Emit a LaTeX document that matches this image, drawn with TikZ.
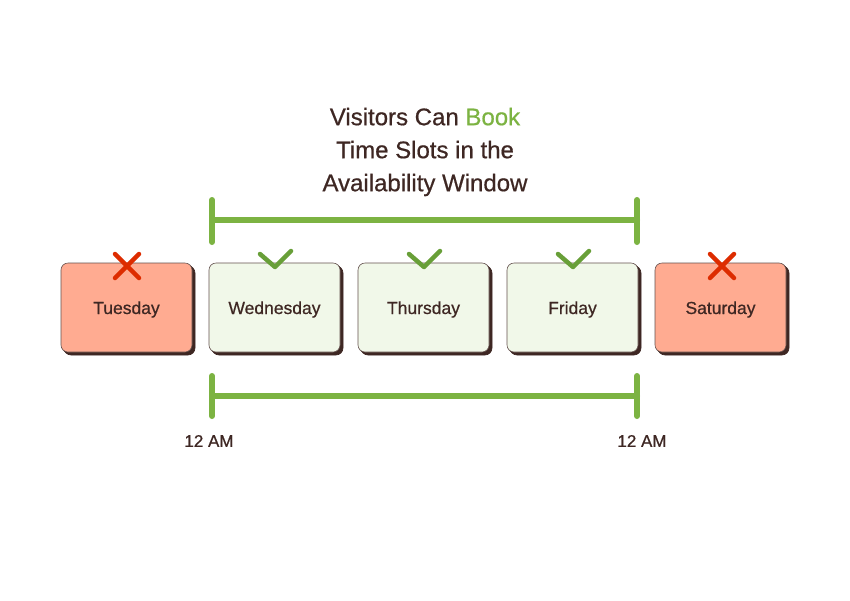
\documentclass[tikz,border=0pt]{standalone}
\usepackage{fontspec}
\setmainfont{Liberation Sans}[UprightFeatures={FakeBold=0.6}]
\definecolor{ink}{HTML}{3E2723}
\definecolor{grn}{HTML}{7CB342}
\definecolor{chk}{HTML}{689F38}
\definecolor{redx}{HTML}{DD2C00}
\definecolor{bad}{HTML}{FFAB91}
\definecolor{good}{HTML}{F1F8E9}
\usetikzlibrary{shadows}
\newcommand{\daytxt}[1]{\raisebox{-6.5pt}[0pt][0pt]{#1}}
\begin{document}
\begin{tikzpicture}[x=1pt,y=-1pt,
  day/.style={draw=ink!80,line width=0.6pt,rounded corners=7pt,minimum width=131pt,minimum height=89pt,
    text=ink,font=\fontsize{17.5}{19}\selectfont,
    double copy shadow={shadow xshift=1.5pt,shadow yshift=-1.5pt,opacity=1,fill=ink,draw=ink}},
  daybad/.style={day,fill=bad},
  daygood/.style={day,fill=good},
  bracket/.style={draw=grn,line width=6pt,line cap=round},
  chkmark/.style={draw=chk,line width=4.5pt,line cap=round,line join=round},
  xmark/.style={draw=redx,line width=4.5pt,line cap=round},
  lbl/.style={text=ink,font=\fontsize{17}{19}\selectfont},
  ttl/.style={text=ink,font=\fontsize{24}{33}\selectfont,align=center}]
\useasboundingbox (0,0) rectangle (850,600);
\fill[white] (0,0) rectangle (850,600);
% title
\node[ttl] (title) at (425,152) {Visitors Can \textcolor{grn}{Book}\\Time Slots in the\\Availability Window};
% top bracket
\coordinate (t1) at (212,220);
\coordinate (t2) at (637,220);
\draw[bracket] (212,200) -- (212,242);
\draw[bracket] (637,200) -- (637,242);
\draw[bracket] (t1) -- (t2);
% boxes
\node[daybad]  (tue) at (126.5,307.5) {\daytxt{Tuesday}};
\node[daygood] (wed) at (274.5,307.5) {\daytxt{Wednesday}};
\node[daygood] (thu) at (423.5,307.5) {\daytxt{Thursday}};
\node[daygood] (fri) at (572.5,307.5) {\daytxt{Friday}};
\node[daybad]  (sat) at (720.5,307.5) {\daytxt{Saturday}};
% marks
\foreach \c in {275,424,573}{
  \draw[chkmark] (\c-15,254) -- (\c,267) -- (\c+16,251);
}
\foreach \c in {127,722}{
  \draw[xmark] (\c-12,254) -- (\c+12,278);
  \draw[xmark] (\c+12,254) -- (\c-12,278);
}
% bottom bracket
\coordinate (b1) at (212,396);
\coordinate (b2) at (637,396);
\draw[bracket] (212,376) -- (212,416);
\draw[bracket] (637,376) -- (637,416);
\draw[bracket] (b1) -- (b2);
\node[lbl] (l1) at (209,441) {12 AM};
\node[lbl] (l2) at (642,441) {12 AM};
\end{tikzpicture}
\end{document}
